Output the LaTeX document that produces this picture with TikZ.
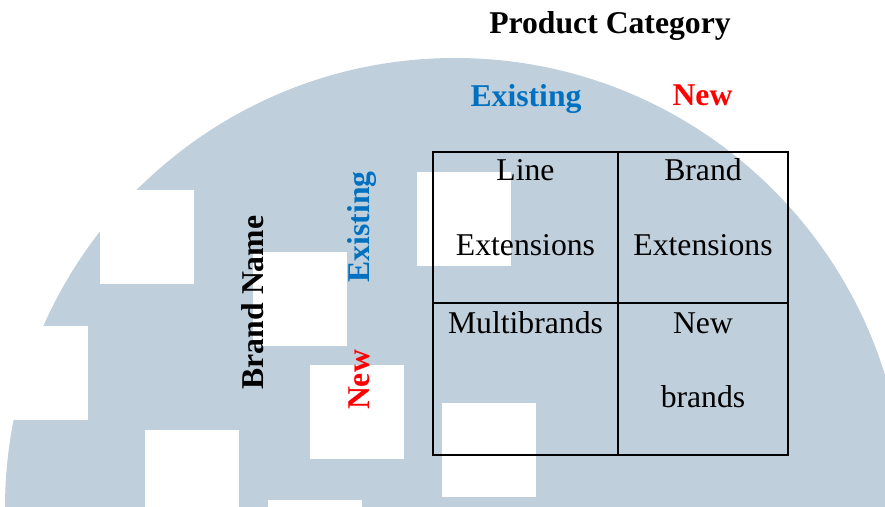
\documentclass[tikz,border=0pt]{standalone}
\usepackage{fontspec}
\setmainfont{Liberation Serif}
\definecolor{wmark}{RGB}{192,207,220}
\definecolor{axisblue}{RGB}{0,112,192}
\definecolor{axisred}{RGB}{255,0,0}
\tikzset{
  cell/.style={draw=black, line width=1.6pt, minimum width=#1, inner sep=0pt},
  celltext/.style={anchor=base, inner sep=0pt, font=\fontsize{31.7}{38}\selectfont},
  heading/.style={anchor=base, inner sep=0pt, font=\fontsize{31.7}{38}\selectfont\bfseries},
}
\begin{document}
\begin{tikzpicture}[x=1pt, y=-1pt]
\useasboundingbox (0,0) rectangle (885,506);

% watermark: a large disc with white square cut-outs
\begin{scope}
  \clip (0,0) rectangle (885,506);
  \fill[wmark] (455,508) circle[radius=450pt];
  \foreach \sx/\sy in {100/190, -6/326, 145/430, 253/252, 310/365, 268/500, 417/172, 442/403}
    \fill[white] (\sx,\sy) rectangle ++(94,94);
\end{scope}

% headings
\node[heading] (prodcat) at (610,33) {Product Category};
\node[heading, text=axisblue] (catold) at (526,106) {Existing};
\node[heading, text=axisred] (catnew) at (702.5,105) {New};
\node[heading, rotate=90] (brandname) at (263,302.5) {Brand Name};
\node[heading, rotate=90, text=axisblue] (brandold) at (369,227) {Existing};
\node[heading, rotate=90, text=axisred] (brandnew) at (369,380) {New};

% the 2x2 matrix
\node[cell=185pt, minimum height=151pt] (c11) at (525.5,227.5) {};
\node[cell=170pt, minimum height=151pt] (c12) at (703,227.5) {};
\node[cell=185pt, minimum height=152pt] (c21) at (525.5,379) {};
\node[cell=170pt, minimum height=152pt] (c22) at (703,379) {};

% cell texts
\node[celltext] (t11a) at (525.5,180) {Line};
\node[celltext] (t11b) at (525.5,255) {Extensions};
\node[celltext] (t12a) at (703,180) {Brand};
\node[celltext] (t12b) at (703,255) {Extensions};
\node[celltext] (t21a) at (525.5,333) {Multibrands};
\node[celltext] (t22a) at (703,333) {New};
\node[celltext] (t22b) at (703,407) {brands};
\end{tikzpicture}
\end{document}
